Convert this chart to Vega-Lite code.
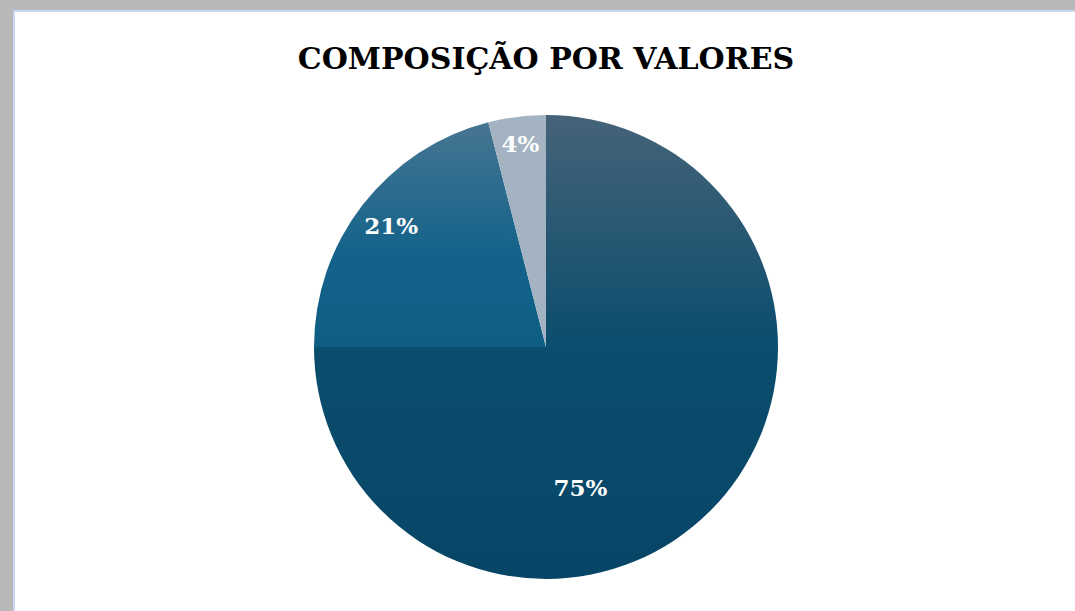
{
  "$schema": "https://vega.github.io/schema/vega-lite/v6.json",
  "autosize": {"type": "none"},
  "width": 1064,
  "height": 672,
  "padding": {"left": 14, "top": 11, "right": 0, "bottom": 0},
  "background": "#b8b8b8",
  "view": {"fill": "#ffffff", "stroke": "#c6d9f0", "strokeWidth": 2},
  "title": {
    "text": "COMPOSIÇÃO POR VALORES",
    "font": "DejaVu Serif",
    "fontSize": 30,
    "fontWeight": "bold",
    "color": "#000000",
    "anchor": "middle",
    "offset": -94,
    "baseline": "bottom"
  },
  "data": {
    "values": [
      {"categoria": "A", "pct": 0.75, "ord": 1},
      {"categoria": "B", "pct": 0.21, "ord": 2},
      {"categoria": "C", "pct": 0.04, "ord": 3}
    ]
  },
  "encoding": {
    "theta": {"field": "pct", "type": "quantitative", "stack": true},
    "order": {"field": "ord", "type": "quantitative"}
  },
  "layer": [
    {
      "mark": {"type": "arc", "outerRadius": 232},
      "encoding": {
        "color": {
          "condition": [
            {"test": "datum.categoria == 'A'", "value": {"gradient": "linear", "x1": 0, "y1": 0, "x2": 0, "y2": 1, "stops": [{"offset": 0, "color": "#456379"}, {"offset": 0.5, "color": "#0b4d6d"}, {"offset": 1, "color": "#074566"}]}},
            {"test": "datum.categoria == 'B'", "value": {"gradient": "linear", "x1": 0, "y1": 0, "x2": 0, "y2": 1, "stops": [{"offset": 0, "color": "#477592"}, {"offset": 0.6, "color": "#12628a"}, {"offset": 1, "color": "#0e5e84"}]}}
          ],
          "value": "#a3b3c1"
        }
      }
    },
    {
      "mark": {"type": "text", "radius": 196, "font": "DejaVu Serif", "fontWeight": "bold", "fontSize": 23, "color": "#ffffff", "align": "center", "baseline": "middle"},
      "encoding": {
        "text": {"condition": {"test": "datum.categoria != 'B'", "value": ""}, "field": "pct", "type": "quantitative", "format": ".0%"}
      }
    },
    {
      "mark": {"type": "text", "radius": 204, "font": "DejaVu Serif", "fontWeight": "bold", "fontSize": 23, "color": "#ffffff", "align": "center", "baseline": "middle"},
      "encoding": {
        "text": {"condition": {"test": "datum.categoria != 'C'", "value": ""}, "field": "pct", "type": "quantitative", "format": ".0%"}
      }
    },
    {
      "mark": {"type": "text", "radius": 145, "dx": -68, "dy": 39, "font": "DejaVu Serif", "fontWeight": "bold", "fontSize": 23, "color": "#ffffff", "align": "center", "baseline": "middle"},
      "encoding": {
        "text": {"condition": {"test": "datum.categoria != 'A'", "value": ""}, "field": "pct", "type": "quantitative", "format": ".0%"}
      }
    }
  ]
}
